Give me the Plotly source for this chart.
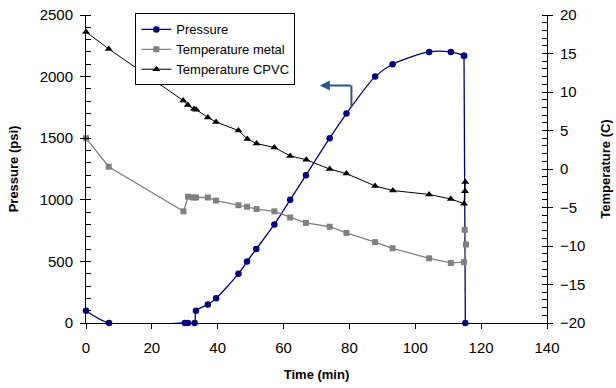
import plotly.graph_objects as go

# ---- data ----
p_time = [0, 7, 30, 31, 33, 33.4, 37, 39.5, 46.3, 48.9, 51.7, 57.2, 62, 66.8, 74, 79.1, 87.8, 93.1, 104.2, 110.8, 114.8, 115.2]
pressure = [100, 0, 0, 0, 0, 100, 150, 200, 400, 500, 600, 800, 1000, 1200, 1500, 1700, 2000, 2100, 2200, 2200, 2170, 0]

tm_time = [0, 6.9, 29.6, 31, 32.6, 33.4, 37, 39.5, 46.3, 48.9, 51.8, 57.2, 62, 66.8, 74, 79.1, 87.8, 93.1, 104.2, 110.8, 114.8, 115.4, 115.0]
temp_metal = [4.0, 0.3, -5.5, -3.6, -3.7, -3.7, -3.7, -4.1, -4.7, -4.9, -5.2, -5.5, -6.3, -7.0, -7.5, -8.3, -9.5, -10.3, -11.6, -12.2, -12.1, -9.8, -7.9]

tc_time = [0, 6.9, 29.5, 30.9, 32.8, 33.5, 37, 39.5, 46.3, 49, 51.8, 57.2, 62, 66.9, 74, 79.1, 87.8, 93.2, 104.2, 110.8, 114.8, 115.1, 115.2]
temp_cpvc = [17.8, 15.6, 8.9, 8.3, 7.8, 7.7, 6.7, 6.1, 5.0, 3.9, 3.3, 2.8, 1.7, 1.2, 0.0, -0.6, -2.2, -2.8, -3.3, -3.9, -4.5, -2.9, -1.7]

x_range = [0, 140]
p_range = [0, 2500]
t_range = [-20, 20]

FONT = "Arial, Liberation Sans, sans-serif"
NAVY = "#000080"

fig = go.Figure()
fig.add_trace(go.Scatter(x=p_time[:-1], y=pressure[:-1], name="Pressure", mode="lines+markers",
                         line=dict(color=NAVY, width=1.3, shape="spline", smoothing=0.8),
                         marker=dict(symbol="circle", size=6.5, color=NAVY),
                         cliponaxis=False, yaxis="y", legendgroup="p"))
fig.add_trace(go.Scatter(x=p_time[-2:], y=pressure[-2:], name="Pressure", mode="lines+markers",
                         line=dict(color=NAVY, width=1.3),
                         marker=dict(symbol="circle", size=6.5, color=NAVY),
                         cliponaxis=False, yaxis="y", legendgroup="p", showlegend=False))
fig.add_trace(go.Scatter(x=tm_time, y=temp_metal, name="Temperature metal", mode="lines+markers",
                         line=dict(color="#808080", width=1.3),
                         marker=dict(symbol="square", size=6, color="#808080"),
                         cliponaxis=False, yaxis="y2"))
fig.add_trace(go.Scatter(x=tc_time, y=temp_cpvc, name="Temperature CPVC", mode="lines+markers",
                         line=dict(color="#000000", width=1),
                         marker=dict(symbol="triangle-up", size=7, color="#000000"),
                         cliponaxis=False, yaxis="y2"))

arrow_col = "#2b5686"
fig.add_shape(type="line", xref="x", yref="y", x0=80.6, x1=80.6, y0=1755, y1=1928,
              line=dict(color=arrow_col, width=2))
fig.add_annotation(xref="x", yref="y", axref="x", ayref="y", x=71.0, y=1928, ax=80.9, ay=1928,
                   text="", showarrow=True, arrowhead=2, arrowsize=1, arrowwidth=2,
                   arrowcolor=arrow_col, standoff=0, startstandoff=0)

axis_common = dict(showline=True, linecolor="black", linewidth=1, showgrid=False, zeroline=False,
                   tickfont=dict(family=FONT, size=15, color="black"), ticks="outside",
                   tickcolor="black", ticklen=5, automargin=False)

fig.update_layout(
    width=616, height=388,
    margin=dict(l=85.5, r=69.3, t=15.3, b=64.5, autoexpand=False),
    paper_bgcolor="white", plot_bgcolor="white",
    font=dict(family=FONT, color="black"),
    showlegend=True,
    legend=dict(x=0.107, y=1.005, xanchor="left", yanchor="top",
                bgcolor="white", bordercolor="black", borderwidth=1,
                font=dict(family=FONT, size=13, color="black"),
                tracegroupgap=0, itemwidth=30),
    xaxis=dict(range=x_range, dtick=20, **axis_common,
               ticklabelstandoff=6,
               title=dict(text="<b>Time (min)</b>", font=dict(family=FONT, size=13), standoff=14)),
    yaxis=dict(range=p_range, dtick=500, **axis_common,
               ticklabelstandoff=4,
               minor=dict(dtick=100, ticks="inside", ticklen=5, tickcolor="black"),
               title=dict(text="<b>Pressure (psi)</b>", font=dict(family=FONT, size=13), standoff=18)),
    yaxis2=dict(range=t_range, dtick=5, overlaying="y", side="right", **axis_common,
                ticklabelstandoff=4,
                minor=dict(dtick=1, ticks="inside", ticklen=5, tickcolor="black"),
                title=dict(text="<b>Temperature (C)</b>", font=dict(family=FONT, size=13), standoff=16)),
    yaxis3=dict(range=p_range, dtick=500, overlaying="y", side="left", showline=False,
                showgrid=False, zeroline=False, ticks="inside", ticklen=5, tickcolor="black",
                showticklabels=False, automargin=False),
    yaxis4=dict(range=t_range, dtick=5, overlaying="y", side="right", showline=False,
                showgrid=False, zeroline=False, ticks="inside", ticklen=5, tickcolor="black",
                showticklabels=False, automargin=False),
)
fig.add_trace(go.Scatter(x=[None], y=[None], yaxis="y3", showlegend=False, hoverinfo="skip"))
fig.add_trace(go.Scatter(x=[None], y=[None], yaxis="y4", showlegend=False, hoverinfo="skip"))

fig.write_html("out.html")
